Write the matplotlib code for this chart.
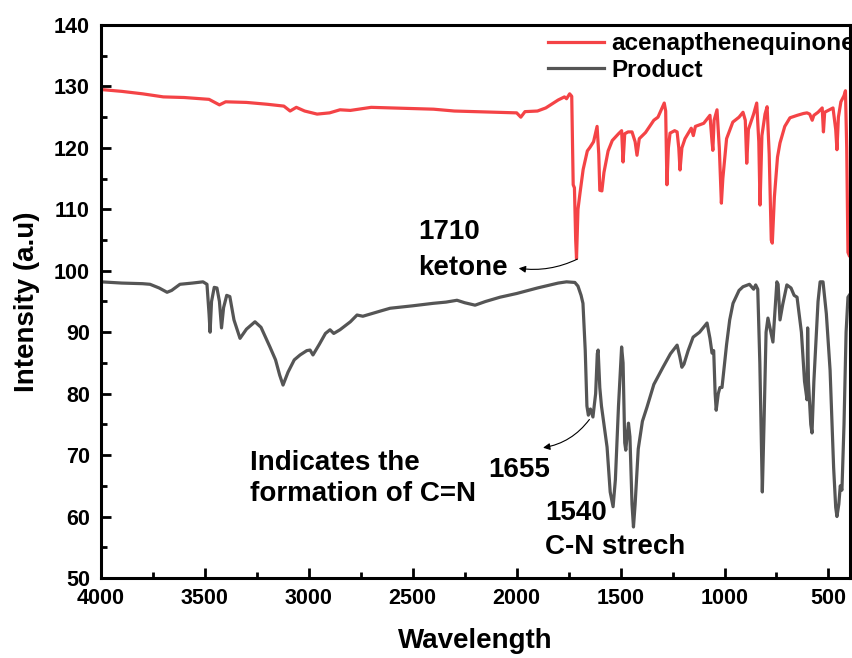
import matplotlib.pyplot as plt
from matplotlib.ticker import MultipleLocator

plt.rcParams['font.family'] = ['Liberation Sans', 'DejaVu Sans']
plt.rcParams['font.weight'] = 'bold'

# acenapthenequinone spectrum (wavenumber, intensity)
red_wn = [4000, 3900, 3800, 3700, 3600, 3480, 3430, 3400, 3300, 3200, 3120, 3090,
          3060, 3020, 2960, 2900, 2850, 2800, 2700, 2600, 2500, 2400, 2300, 2200,
          2100, 2000, 1980, 1960, 1900, 1860, 1800, 1770, 1760, 1745, 1735, 1728,
          1722, 1716, 1712, 1705, 1695, 1680, 1660, 1647, 1630, 1613, 1605, 1600,
          1590, 1580, 1560, 1540, 1510, 1495, 1488, 1480, 1464, 1445, 1430, 1421,
          1410, 1380, 1340, 1320, 1290, 1283, 1277, 1270, 1262, 1240, 1228, 1220,
          1214, 1205, 1190, 1160, 1150, 1140, 1100, 1070, 1060, 1056, 1050, 1036,
          1025, 1015, 1008, 990, 960, 930, 911, 900, 893, 885, 860, 845, 835, 829,
          820, 805, 795, 785, 775, 770, 760, 745, 733, 710, 685, 650, 620, 603,
          590, 578, 570, 550, 530, 524, 518, 490, 478, 465, 459, 452, 440, 425,
          418, 412, 406, 400]
red_val = [129.5, 129.2, 128.8, 128.3, 128.2, 127.9, 127.0, 127.5, 127.4, 127.1, 126.8, 126.0,
           126.6, 126.0, 125.5, 125.7, 126.2, 126.1, 126.6, 126.5, 126.4, 126.3, 126.0, 125.9,
           125.8, 125.7, 125.0, 125.9, 126.0, 126.5, 127.8, 128.3, 128.0, 128.8, 128.4, 114.0,
           113.5, 105.0, 102.0, 110.0, 112.7, 116.5, 119.5, 120.1, 121.0, 123.5, 119.0, 113.1,
           113.0, 116.0, 119.5, 121.2, 122.3, 122.8, 117.7, 122.3, 122.6, 122.6, 121.0, 118.8,
           121.5, 122.5, 124.5, 125.0, 127.3, 126.0, 114.0, 120.0, 122.4, 122.8, 122.6, 120.0,
           116.4, 120.0, 121.5, 123.2, 122.0, 123.5, 124.0, 125.3, 121.0, 119.6, 124.5, 126.2,
           120.0, 111.0, 115.0, 121.5, 124.2, 125.0, 125.8, 124.5, 117.5, 123.0, 125.5, 127.3, 121.0, 110.7,
           122.0, 125.5, 126.7, 119.0, 105.0, 104.5, 112.0, 118.5, 120.8, 123.5, 124.9, 125.3, 125.6, 125.7,
           125.5, 124.5, 125.3, 125.8, 126.5, 122.6, 125.8, 126.3, 126.5, 123.0, 119.7, 125.0, 127.5, 128.5,
           129.3, 120.0, 103.0, 102.5]

# Product spectrum
grey_wn = [4000, 3900, 3800, 3764, 3720, 3682, 3660, 3620, 3560, 3509, 3490, 3480,
           3475, 3468, 3455, 3442, 3430, 3420, 3410, 3395, 3380, 3360, 3331, 3300,
           3259, 3230, 3187, 3160, 3140, 3124, 3100, 3070, 3042, 3010, 2994, 2980,
           2950, 2920, 2898, 2880, 2850, 2800, 2768, 2740, 2691, 2650, 2609, 2500,
           2402, 2340, 2287, 2250, 2200, 2150, 2080, 2000, 1900, 1800, 1760, 1720,
           1705, 1690, 1681, 1670, 1662, 1655, 1645, 1633, 1620, 1612, 1608, 1600,
           1592, 1580, 1565, 1550, 1536, 1525, 1510, 1495, 1488, 1480, 1475, 1469,
           1462, 1455, 1445, 1438, 1430, 1415, 1395, 1373, 1340, 1296, 1260, 1228,
           1215, 1205, 1195, 1175, 1151, 1120, 1084, 1070, 1060, 1052, 1045, 1040,
           1030, 1022, 1012, 990, 975, 959, 930, 911, 880, 860, 850, 840, 830, 818,
           810, 800, 791, 780, 767, 758, 748, 742, 733, 720, 700, 680, 665, 651,
           630, 615, 603, 600, 596, 585, 579, 570, 550, 540, 526, 510, 492, 475,
           465, 459, 450, 443, 435, 425, 415, 406, 400]
grey_val = [98.2, 98.0, 97.9, 97.8, 97.2, 96.5, 96.8, 97.8, 98.0, 98.2, 97.8, 93.0,
            90.0, 95.0, 97.3, 97.2, 95.0, 90.7, 94.0, 96.0, 95.8, 92.0, 89.0, 90.5,
            91.7, 90.8, 87.6, 85.5, 83.0, 81.4, 83.5, 85.5, 86.3, 87.0, 87.1, 86.3,
            88.0, 89.8, 90.4, 89.8, 90.4, 91.7, 92.8, 92.6, 93.1, 93.5, 93.9, 94.3,
            94.7, 94.9, 95.2, 94.8, 94.4, 95.0, 95.7, 96.3, 97.2, 98.0, 98.2, 98.1,
            97.5, 96.0, 94.7, 87.0, 78.0, 76.5, 77.5, 76.2, 80.0, 86.5, 87.1, 81.0,
            78.0, 75.0, 71.3, 64.0, 61.6, 66.0, 78.0, 87.6, 85.0, 72.0, 70.8, 73.0,
            75.2, 73.0, 62.0, 58.3, 62.0, 71.0, 75.5, 77.8, 81.5, 84.3, 86.5, 87.9,
            86.0, 84.3, 84.8, 87.0, 89.2, 90.0, 91.5, 89.0, 86.6, 87.0, 80.0, 77.3,
            80.0, 81.0, 81.0, 88.0, 92.0, 94.7, 96.8, 97.4, 97.8, 97.0, 97.7, 97.0, 85.0, 64.0,
            75.0, 90.0, 92.3, 90.5, 88.4, 93.0, 98.2, 97.8, 92.0, 94.5, 97.7, 97.2, 96.0, 95.7,
            90.0, 82.0, 79.0, 90.7, 82.0, 75.0, 73.6, 82.0, 95.0, 98.2, 98.2, 93.0, 83.8, 68.0,
            61.5, 60.0, 62.0, 65.0, 64.3, 75.0, 90.0, 95.7, 96.0]

fig = plt.figure(figsize=(8.52, 6.58), dpi=100)
ax = fig.add_axes([0.1185, 0.1216, 0.8792, 0.8404])

ax.plot(red_wn, red_val, color="#f44346", lw=2.3, label="acenapthenequinone")
ax.plot(grey_wn, grey_val, color="#555555", lw=2.3, label="Product")

ax.set_xlim(4000, 396)
ax.set_ylim(50, 140)
ax.xaxis.set_major_locator(MultipleLocator(500))
ax.xaxis.set_minor_locator(MultipleLocator(250))
ax.yaxis.set_major_locator(MultipleLocator(10))
ax.yaxis.set_minor_locator(MultipleLocator(5))
ax.tick_params(which="major", direction="in", length=7, width=2, labelsize=15.5)
ax.tick_params(axis="y", which="major", pad=8)
ax.tick_params(axis="x", which="major", pad=7)
ax.tick_params(which="minor", direction="in", length=4, width=2)
ax.tick_params(top=False, right=False)
for s in ax.spines.values():
    s.set_linewidth(2.2)

ax.set_xlabel("Wavelength", fontsize=20, fontweight="bold", labelpad=14)
ax.set_ylabel("Intensity (a.u)", fontsize=20, fontweight="bold", labelpad=10)

# legend runs past the right spine in the original, so clip its labels to the axes
leg = ax.legend(loc="upper left", bbox_to_anchor=(0.587, 1.0), frameon=False,
                fontsize=17.5, handlelength=2.3, handletextpad=0.3,
                labelspacing=0.15, borderaxespad=0.1, borderpad=0.2)
for t in leg.get_texts():
    t.set_clip_on(True)
    t.set_clip_box(ax.bbox)

# annotations
fs = 20
ax.text(2475, 106.3, "1710", fontsize=fs, fontweight="bold", va="center")
ax.text(2475, 100.4, "ketone", fontsize=fs, fontweight="bold", va="center")
ax.annotate("", xy=(1990, 100.4), xytext=(1708, 101.9),
            arrowprops=dict(arrowstyle="-|>", color="black", lw=0.8,
                            connectionstyle="arc3,rad=-0.15", shrinkA=0, shrinkB=0))

ax.text(3283, 68.7, "Indicates the", fontsize=fs, fontweight="bold", va="center")
ax.text(3283, 63.7, "formation of C=N", fontsize=fs, fontweight="bold", va="center")
ax.text(2138, 67.6, "1655", fontsize=fs, fontweight="bold", va="center")
ax.annotate("", xy=(1873, 71.2), xytext=(1650, 75.8),
            arrowprops=dict(arrowstyle="-|>", color="black", lw=0.8,
                            connectionstyle="arc3,rad=-0.2", shrinkA=0, shrinkB=0))
ax.text(1863, 60.6, "1540", fontsize=fs, fontweight="bold", va="center")
ax.text(1863, 55.0, "C-N strech", fontsize=fs, fontweight="bold", va="center")

fig.savefig("out.png", dpi=100)
